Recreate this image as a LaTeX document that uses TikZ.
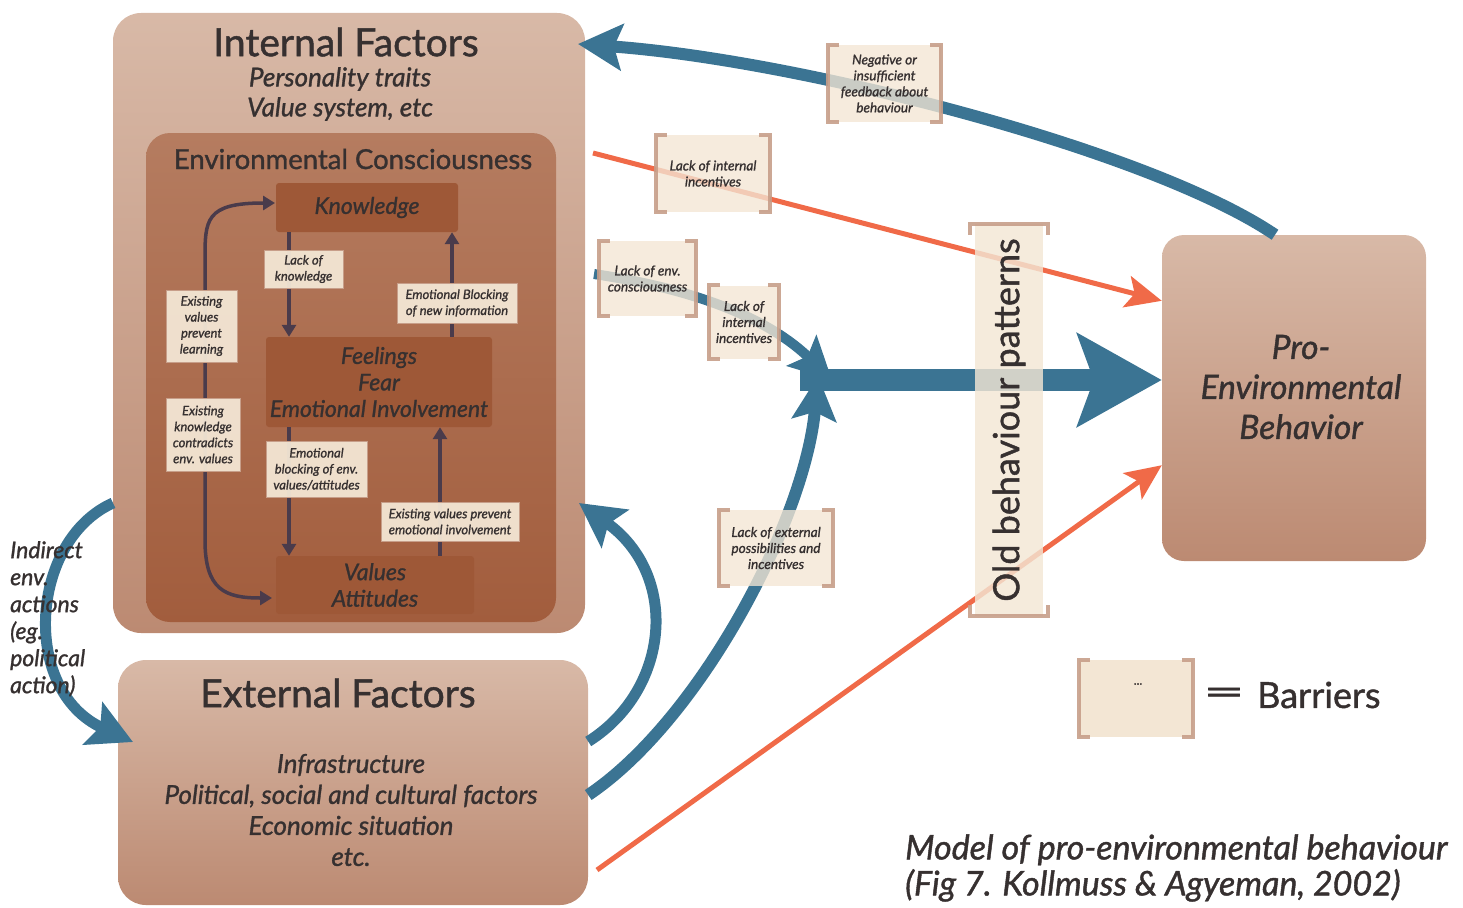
\documentclass[tikz,border=0pt]{standalone}
\usepackage{fontspec}
\setmainfont{Lato}[FakeBold=1.2]
\usetikzlibrary{arrows.meta}
\definecolor{txt}{HTML}{363030}
\definecolor{boxtop}{HTML}{D8B9A7}
\definecolor{boxbot}{HTML}{BC8A72}
\definecolor{envtop}{HTML}{B57C60}
\definecolor{envbot}{HTML}{A25D3D}
\definecolor{inbox}{HTML}{9E5837}
\definecolor{barfill}{HTML}{F3E6D4}
\definecolor{barline}{HTML}{C79E89}
\definecolor{inarr}{HTML}{4A3B4B}
\definecolor{blue}{HTML}{3B7493}
\definecolor{orng}{HTML}{F06A48}
\newcommand\vbr[1]{%
  \draw[bracket] ([xshift=11pt]#1.north west) -- (#1.north west) -- (#1.south west) -- ([xshift=11pt]#1.south west);
  \draw[bracket] ([xshift=-11pt]#1.north east) -- (#1.north east) -- (#1.south east) -- ([xshift=-11pt]#1.south east);}
\tikzset{
  bigbox/.style={rounded corners=28pt, top color=boxtop, bottom color=boxbot, draw=none},
  envbox/.style={rounded corners=24pt, top color=envtop, bottom color=envbot, draw=none},
  innode/.style={fill=inbox, rounded corners=3pt, text=txt, align=center, font=\itshape\fontsize{23}{26.5}\selectfont},
  inbar/.style={fill=barfill, fill opacity=0.95, text opacity=1, draw=barline, line width=1pt, text=txt, align=center, inner sep=0pt, font=\itshape\fontsize{13}{16}\selectfont},
  barrier/.style={fill=barfill, fill opacity=0.78, text opacity=1, draw=none, text=txt, align=center, inner sep=0pt, font=\itshape\fontsize{13.6}{16}\selectfont},
  bracket/.style={draw=barline, line width=4pt, opacity=0.9},
  inarrow/.style={draw=inarr, line width=3.5pt, -{Triangle[length=12pt,width=14pt]}},
  barrow/.style={draw=blue, line width=11pt},
  oarrow/.style={draw=orng, line width=5pt, -{Stealth[length=36pt,width=32pt,inset=8pt]}},
}
\begin{document}
\begin{tikzpicture}[x=1pt,y=-1pt]
\useasboundingbox (0,0) rectangle (1463,907);
% big boxes
\node[bigbox, minimum width=472pt, minimum height=620pt] (internal) at (349,323) {};
\node[bigbox, minimum width=470pt, minimum height=245pt] (external) at (353,782.5) {};
\node[bigbox, rounded corners=22pt, minimum width=264pt, minimum height=326pt] (pro) at (1294,398) {};
\node[envbox, minimum width=410pt, minimum height=489pt] (env) at (351,377.5) {};
% titles
\node[text=txt, font=\fontsize{39}{44}\selectfont] (inttitle) at (346,42) {Internal Factors};
\node[text=txt, align=center, font=\itshape\fontsize{26}{30}\selectfont] (inttext) at (340,94) {Personality traits\\Value system, etc};
\node[text=txt, font=\fontsize{27.5}{30}\selectfont] (envtitle) at (353,159) {Environmental Consciousness};
\node[text=txt, font=\fontsize{39}{44}\selectfont] (exttitle) at (338,693) {External Factors};
\node[text=txt, align=center, font=\itshape\fontsize{26}{31}\selectfont] (exttext) at (351,810) {Infrastructure\\Political, social and cultural factors\\Economic situation\\etc.};
\node[text=txt, align=center, font=\itshape\fontsize{33.5}{40}\selectfont] (protext) at (1301,387) {Pro-\\Environmental\\Behavior};
% inner nodes
\node[innode, minimum width=182pt, minimum height=49pt] (knowledge) at (367,207.5) {Knowledge};
\node[innode, minimum width=226pt, minimum height=90pt] (feelings) at (379,382) {Feelings\\Fear\\Emotional Involvement};
\node[innode, minimum width=198pt, minimum height=58pt] (values) at (375,585) {Values\\Attitudes};
% inner arrows
\coordinate (kin) at (275,203);
\coordinate (vin) at (272,598);
\draw[inarrow, {Triangle[length=12pt,width=14pt]}-{Triangle[length=12pt,width=14pt]}] (kin) .. controls (205,203) and (205,220) .. (205,260) -- (205,540) .. controls (205,590) and (225,598) .. (vin);
\draw[inarrow] ([xshift=-78pt]knowledge.south) -- ([xshift=-90pt]feelings.north);
\draw[inarrow] ([xshift=73pt]feelings.north) -- ([xshift=85pt]knowledge.south);
\draw[inarrow] ([xshift=-90pt]feelings.south) -- ([xshift=-86pt]values.north);
\draw[inarrow] ([xshift=65pt]values.north) -- ([xshift=61pt]feelings.south);
% inner barriers
\node[inbar, minimum width=79pt, minimum height=38pt] (lk) at (303.5,269) {Lack of\\knowledge};
\node[inbar, minimum width=120pt, minimum height=40pt] (eb) at (457,303) {Emotional Blocking\\of new information};
\node[inbar, minimum width=71pt, minimum height=72pt] (evp) at (201.5,326) {Existing\\values\\prevent\\learning};
\node[inbar, minimum width=74pt, minimum height=73pt] (ekc) at (203,434.5) {Existing\\knowledge\\contradicts\\env. values};
\node[inbar, minimum width=101pt, minimum height=56pt] (ebv) at (316.5,469) {Emotional\\blocking of env.\\values/attitudes};
\node[inbar, minimum width=138pt, minimum height=39pt] (evpe) at (450,521.5) {Existing values prevent\\emotional involvement};
% blue arrows
\coordinate (fbtip) at (578,44);
\coordinate (ecstart) at (594,274);
\coordinate (mstart) at (800,380);
\coordinate (m1) at (832,380);
\coordinate (m2) at (818,376);
\coordinate (loopend) at (579,503);
\coordinate (indstart) at (113,503);
\coordinate (indend) at (133,742);
\draw[barrow, line width=12pt, -{Stealth[length=44pt,width=46pt,inset=8pt]}] ([xshift=-19pt]pro.north) .. controls (1150,150) and (800,60) .. (fbtip);
\draw[barrow, line width=10pt, -{Stealth[length=42pt,width=42pt,inset=8pt]}] (ecstart) .. controls (700,290) and (770,320) .. (m1);
\draw[barrow, line width=12pt, -{Stealth[length=44pt,width=44pt,inset=8pt]}] ([yshift=-12.5pt]external.east) .. controls (700,720) and (805,520) .. (m2);
\draw[barrow, line width=11pt, -{Stealth[length=44pt,width=46pt,inset=8pt]}] ([yshift=41pt]external.east) .. controls (670,690) and (680,575) .. (loopend);
\draw[barrow, line width=11pt, -{Stealth[length=44pt,width=46pt,inset=8pt]}] (indstart) .. controls (30,540) and (20,690) .. (indend);
\draw[barrow, line width=22pt, -{Stealth[length=84pt,width=92pt,inset=16pt]}] (mstart) -- ([yshift=18pt]pro.west);
% orange arrows
\coordinate (o1s) at (593,153);
\coordinate (o2s) at (597,870);
\draw[oarrow] (o1s) -- ([yshift=-66pt]pro.north west);
\draw[oarrow] (o2s) -- ([yshift=96pt]pro.south west);
% old behaviour
\node[fill=barfill, fill opacity=0.82, minimum width=68pt, minimum height=392pt, inner sep=0pt] (old) at (1009,420) {};
\node[text=txt, rotate=90, inner sep=0pt, font=\fontsize{36}{40}\selectfont] (oldtext) at (old.center) {Old behaviour patterns};
\draw[bracket] ([shift={(-5pt,-11pt)}]old.north west) -- ([xshift=-5pt]old.north west) -- ([xshift=5pt]old.north east) -- ([shift={(5pt,-11pt)}]old.north east);
\draw[bracket] ([shift={(-5pt,11pt)}]old.south west) -- ([xshift=-5pt]old.south west) -- ([xshift=5pt]old.south east) -- ([shift={(5pt,11pt)}]old.south east);
% outer barriers
\node[barrier, minimum width=113pt, minimum height=77pt] (b1) at (884.5,83.5) {Negative or\\insufficient\\feedback about\\behaviour};
\node[barrier, minimum width=114pt, minimum height=77pt] (b2) at (713,173.5) {Lack of internal\\incentives};
\node[barrier, minimum width=97pt, minimum height=75pt] (b3) at (647.5,278.5) {Lack of env.\\consciousness};
\node[barrier, minimum width=70pt, minimum height=73pt] (b4) at (744,322) {Lack of\\internal\\incentives};
\node[barrier, minimum width=114pt, minimum height=76pt] (b5) at (776,548) {Lack of external\\possibilities and\\incentives};
\vbr{b1}\vbr{b2}\vbr{b3}\vbr{b4}\vbr{b5}
% legend
\node[barrier, fill opacity=1, minimum width=114pt, minimum height=77pt] (leg) at (1136,698.5) {};
\vbr{leg}
\node[text=txt, inner sep=0pt, font=\fontsize{12}{12}\selectfont] (legdots) at (1138,684) {...};
\node[text=txt, xscale=2, inner sep=0pt, font=\fontsize{36}{40}\selectfont] (legeq) at (1224,696) {=};
\node[text=txt, font=\fontsize{36}{40}\selectfont, anchor=west, inner sep=0pt] (legtext) at (1257,695) {Barriers};
% indirect text
\node[text=txt, align=left, anchor=north west, inner sep=0pt, font=\itshape\fontsize{23}{27}\selectfont] (indtext) at (10,541) {Indirect\\env.\\actions\\(eg.\\political\\action)};
% caption
\node[text=txt, align=left, anchor=west, inner sep=0pt, font=\itshape\fontsize{34}{36}\selectfont] (caption) at (905,868) {Model of pro-environmental behaviour\\(Fig 7. Kollmuss \& Agyeman, 2002)};
\end{tikzpicture}
\end{document}
